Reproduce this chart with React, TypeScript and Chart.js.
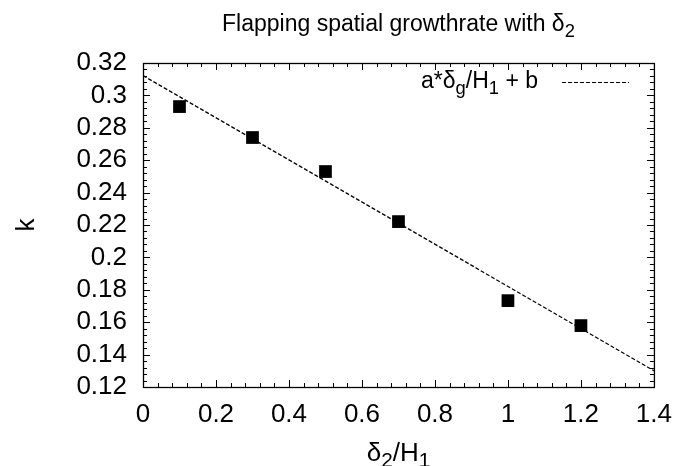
import React, { useEffect, useRef } from "react";
import { Chart, registerables } from "chart.js";

Chart.register(...registerables);

// ---- data ----
const xValues = [0.1, 0.3, 0.5, 0.7, 1.0, 1.2];
const kValues = [0.2931, 0.274, 0.253, 0.2221, 0.1733, 0.1579];
const fitX = [0, 1.4];
const fitY = [0.3122, 0.1301];
const xMin = 0;
const xMax = 1.4;
const xStep = 0.2;
const yMin = 0.12;
const yMax = 0.32;
const yStep = 0.02;
const minorDivisions = 5;

type Part = { t: string; sub?: boolean };
const titleParts: Part[] = [{ t: "Flapping spatial growthrate with δ" }, { t: "2", sub: true }];
const xLabelParts: Part[] = [{ t: "δ" }, { t: "2", sub: true }, { t: "/H" }, { t: "1", sub: true }];
const yLabelText = "k";
const legendParts: Part[] = [
  { t: "a*δ" },
  { t: "g", sub: true },
  { t: "/H" },
  { t: "1", sub: true },
  { t: " + b" },
];

const FONT = '"Liberation Sans", Arial, Helvetica, sans-serif';

const fmt = (v: number) => String(Number(v.toFixed(4)));

function drawRich(
  ctx: CanvasRenderingContext2D,
  parts: Part[],
  x: number,
  y: number,
  size: number,
  align: "left" | "center" | "right"
) {
  const subSize = size * 0.8;
  const widths = parts.map((p) => {
    ctx.font = `${p.sub ? subSize : size}px ${FONT}`;
    return ctx.measureText(p.t).width;
  });
  const total = widths.reduce((a, b) => a + b, 0);
  let cx = align === "center" ? x - total / 2 : align === "right" ? x - total : x;
  ctx.textAlign = "left";
  ctx.textBaseline = "alphabetic";
  parts.forEach((p, i) => {
    ctx.font = `${p.sub ? subSize : size}px ${FONT}`;
    ctx.fillText(p.t, cx, y + (p.sub ? size * 0.24 : 0));
    cx += widths[i];
  });
}

const framePlugin = {
  id: "gnuplotFrame",
  afterDraw(chart: any) {
    const ctx: CanvasRenderingContext2D = chart.ctx;
    const { left, right, top, bottom } = chart.chartArea;
    const xs = chart.scales.x;
    const ys = chart.scales.y;
    ctx.save();
    ctx.strokeStyle = "#000";
    ctx.fillStyle = "#000";

    // ticks (inward, mirrored)
    ctx.lineWidth = 1;
    const majorLen = 7;
    const minorLen = 4;
    const xt = xs.ticks.map((t: any) => t.value);
    const yt = ys.ticks.map((t: any) => t.value);
    ctx.beginPath();
    xt.forEach((v: number, i: number) => {
      const px = Math.round(xs.getPixelForValue(v)) + 0.5;
      ctx.moveTo(px, bottom);
      ctx.lineTo(px, bottom - majorLen);
      ctx.moveTo(px, top);
      ctx.lineTo(px, top + majorLen);
      if (i < xt.length - 1) {
        const step = (xt[i + 1] - v) / minorDivisions;
        for (let k = 1; k < minorDivisions; k++) {
          const mx = Math.round(xs.getPixelForValue(v + k * step)) + 0.5;
          ctx.moveTo(mx, bottom);
          ctx.lineTo(mx, bottom - minorLen);
          ctx.moveTo(mx, top);
          ctx.lineTo(mx, top + minorLen);
        }
      }
    });
    yt.forEach((v: number, i: number) => {
      const py = Math.round(ys.getPixelForValue(v)) + 0.5;
      ctx.moveTo(left, py);
      ctx.lineTo(left + majorLen, py);
      ctx.moveTo(right, py);
      ctx.lineTo(right - majorLen, py);
      if (i < yt.length - 1) {
        const step = (yt[i + 1] - v) / minorDivisions;
        for (let k = 1; k < minorDivisions; k++) {
          const my = Math.round(ys.getPixelForValue(v + k * step)) + 0.5;
          ctx.moveTo(left, my);
          ctx.lineTo(left + minorLen, my);
          ctx.moveTo(right, my);
          ctx.lineTo(right - minorLen, my);
        }
      }
    });
    ctx.stroke();

    // frame
    ctx.lineWidth = 1.3;
    ctx.strokeRect(left + 0.5, top + 0.5, right - left, bottom - top);

    // title
    drawRich(ctx, titleParts, (left + right) / 2, 31, 23, "center");

    // x axis label
    drawRich(ctx, xLabelParts, (left + right) / 2, 461, 26, "center");

    // y axis label (rotated)
    ctx.save();
    ctx.translate(34, (top + bottom) / 2);
    ctx.rotate(-Math.PI / 2);
    ctx.font = `26px ${FONT}`;
    ctx.textAlign = "center";
    ctx.textBaseline = "alphabetic";
    ctx.fillText(yLabelText, 0, 0);
    ctx.restore();

    // legend (key)
    drawRich(ctx, legendParts, 538, 88, 23, "right");
    ctx.setLineDash([4, 2]);
    ctx.lineWidth = 1.2;
    ctx.beginPath();
    ctx.moveTo(562, 82.5);
    ctx.lineTo(629, 82.5);
    ctx.stroke();
    ctx.setLineDash([]);

    ctx.restore();
  },
};

export default function App() {
  const ref = useRef<HTMLCanvasElement | null>(null);

  useEffect(() => {
    document.body.style.margin = "0";
    const canvas = ref.current;
    if (!canvas) return;
    const tickFont = { family: FONT, size: 26 };
    const chart = new Chart(canvas, {
      type: "scatter",
      data: {
        datasets: [
          {
            label: "fit",
            type: "line",
            data: fitX.map((x, i) => ({ x, y: fitY[i] })),
            borderColor: "#000",
            borderWidth: 1.2,
            borderDash: [4, 2],
            pointRadius: 0,
            fill: false,
            showLine: true,
          } as any,
          {
            label: "k",
            data: xValues.map((x, i) => ({ x, y: kValues[i] })),
            pointStyle: "rect",
            pointRadius: 9,
            backgroundColor: "#000",
            borderColor: "#000",
            borderWidth: 0,
            showLine: false,
          } as any,
        ],
      },
      options: {
        responsive: false,
        animation: false,
        layout: { padding: { top: 63, right: 26, bottom: 0, left: 0 } },
        plugins: {
          legend: { display: false },
          title: { display: false },
          tooltip: { enabled: false },
        },
        scales: {
          x: {
            type: "linear",
            min: xMin,
            max: xMax,
            ticks: {
              stepSize: xStep,
              color: "#000",
              font: tickFont,
              padding: 12,
              maxRotation: 0,
              autoSkip: false,
              callback: (v: any) => fmt(Number(v)),
            },
            grid: { display: false, drawTicks: false },
            border: { display: false },
            afterFit: (s: any) => {
              s.height = 79;
            },
          },
          y: {
            type: "linear",
            min: yMin,
            max: yMax,
            ticks: {
              stepSize: yStep,
              color: "#000",
              font: tickFont,
              padding: 16,
              autoSkip: false,
              callback: (v: any) => fmt(Number(v)),
            },
            grid: { display: false, drawTicks: false },
            border: { display: false },
            afterFit: (s: any) => {
              s.width = 143;
            },
          },
        },
      } as any,
      plugins: [framePlugin],
    });
    return () => chart.destroy();
  }, []);

  return (
    <div style={{ width: 684, height: 466, background: "#fff" }}>
      <canvas ref={ref} width={684} height={466} style={{ display: "block" }} />
    </div>
  );
}
